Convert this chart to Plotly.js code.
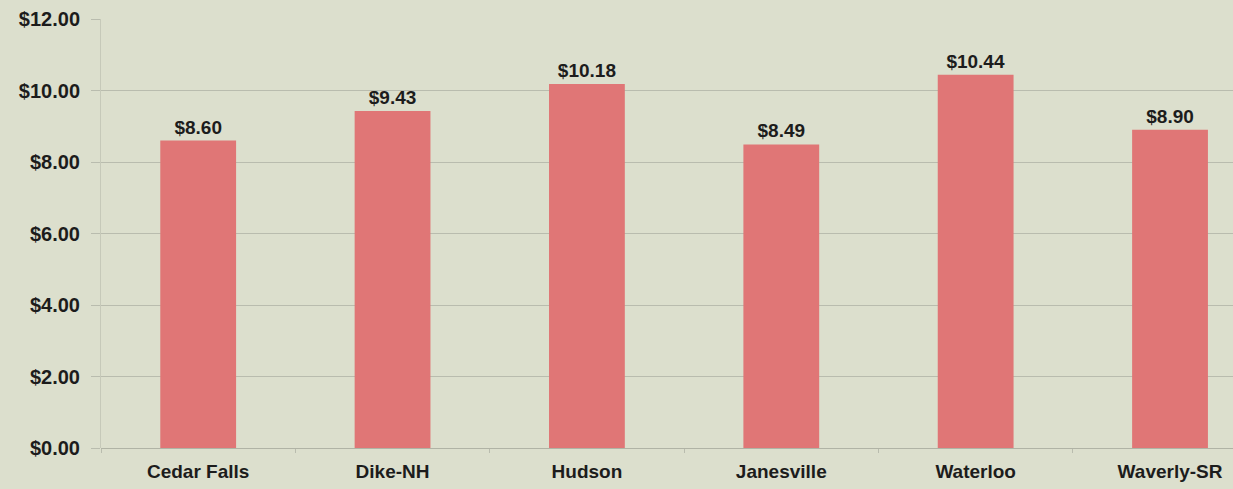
<!DOCTYPE html>
<html><head><meta charset="utf-8">
<script src="https://cdn.plot.ly/plotly-3.0.1.min.js"></script>
<style>html,body{margin:0;padding:0;background:#dcdfcd;}#chart{width:1233px;height:489px;}</style>
</head><body><div id="chart"></div>
<script>
const categories = ["Cedar Falls", "Dike-NH", "Hudson", "Janesville", "Waterloo", "Waverly-SR"];
const wages = [8.60, 9.43, 10.18, 8.49, 10.44, 8.90];
const yTickValues = [0, 2, 4, 6, 8, 10, 12];
const yTickLabels = ["$0.00", "$2.00", "$4.00", "$6.00", "$8.00", "$10.00", "$12.00"];

const fontFam = '"Liberation Sans", Arial, sans-serif';
Plotly.newPlot('chart', [{
  type: 'bar',
  x: categories,
  y: wages,
  width: 0.39,
  marker: {color: '#e07676'},
  text: wages.map(v => '<b>$' + v.toFixed(2) + '</b>'),
  textposition: 'outside',
  cliponaxis: false,
  textfont: {family: fontFam, size: 19, color: '#1c1c1c'},
  hoverinfo: 'none'
}], {
  width: 1233, height: 489,
  margin: {l: 101, r: 0, t: 19, b: 41},
  paper_bgcolor: '#dcdfcd',
  plot_bgcolor: '#dcdfcd',
  showlegend: false,
  xaxis: {
    type: 'category',
    range: [-0.5, 5.324],
    tickson: 'boundaries',
    ticks: 'outside', ticklen: 4, tickcolor: '#b9bcae',
    ticklabelstandoff: 10,
    showgrid: false,
    showline: false,
    tickfont: {family: fontFam, size: 19, color: '#1c1c1c'},
    ticktext: categories.map(c => '<b>' + c + '</b>'),
    tickvals: categories,
    tickmode: 'array'
  },
  yaxis: {
    range: [0, 12],
    tickmode: 'array',
    tickvals: yTickValues,
    ticktext: yTickLabels.map(t => '<b>' + t + '</b>'),
    ticks: 'outside', ticklen: 9, tickcolor: '#b9bcae',
    ticklabelstandoff: 7,
    showgrid: true, gridcolor: '#b9bcae', gridwidth: 1,
    zeroline: true, zerolinecolor: '#b0b3a5', zerolinewidth: 1,
    showline: true, linecolor: '#c6c9b9', linewidth: 1,
    tickfont: {family: fontFam, size: 20, color: '#1c1c1c'}
  }
}, {staticPlot: true});
</script></body></html>
